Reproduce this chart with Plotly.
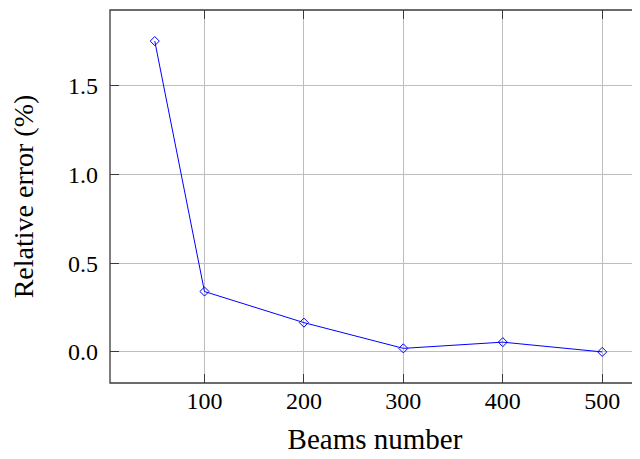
import plotly.graph_objects as go

beams = [50, 100, 200, 300, 400, 500]
rel_error = [1.75, 0.34, 0.165, 0.02, 0.055, 0.0]
x_ticks = [100, 200, 300, 400, 500]
y_ticks = [0.0, 0.5, 1.0, 1.5]

x_range = [5, 538]
y_range = [-0.175, 1.925]

FONT = "Liberation Serif"
FRAME = "#3a3a3a"
GRID = "#bdbdbd"

fig = go.Figure()
fig.add_trace(go.Scatter(
    x=beams, y=rel_error, mode="lines+markers",
    line=dict(color="#0000ff", width=1),
    marker=dict(symbol="diamond-open", size=7, color="#0000ff",
                line=dict(color="#0000ff", width=1)),
    showlegend=False, hoverinfo="skip"))
# invisible trace to carry mirrored tick axes
fig.add_trace(go.Scatter(
    x=beams, y=rel_error, xaxis="x2", yaxis="y2", mode="lines",
    line=dict(width=0), opacity=0, showlegend=False, hoverinfo="skip"))

# page body adds an 8px margin, so the figure is sized to fill the rest of the window
fig.update_layout(
    width=632, height=451,
    margin=dict(l=102, r=0, t=1.5, b=76.3, autoexpand=False),
    paper_bgcolor="white", plot_bgcolor="white",
    font=dict(family=FONT, color="black"),
    xaxis=dict(
        range=x_range, tickvals=x_ticks, ticktext=[str(v) for v in x_ticks],
        showgrid=True, gridcolor=GRID, gridwidth=1, zeroline=False, automargin=False,
        showline=False, ticks="inside", ticklen=9, tickcolor=FRAME, tickwidth=1,
        tickfont=dict(size=24, family=FONT), ticklabelstandoff=1,
        title=dict(text="Beams number", font=dict(size=29, family=FONT), standoff=15),
    ),
    yaxis=dict(
        range=y_range, tickvals=y_ticks, tickformat=".1f",
        showgrid=True, gridcolor=GRID, gridwidth=1, zeroline=False, automargin=False,
        showline=False, ticks="inside", ticklen=9, tickcolor=FRAME, tickwidth=1,
        tickfont=dict(size=24, family=FONT), ticklabelstandoff=11,
        title=dict(text="Relative error (%)", font=dict(size=28, family=FONT), standoff=26),
    ),
    xaxis2=dict(
        range=x_range, tickvals=x_ticks, overlaying="x", side="top", anchor="y",
        showgrid=False, zeroline=False, showline=False, showticklabels=False, automargin=False,
        ticks="inside", ticklen=9, tickcolor=FRAME, tickwidth=1,
    ),
    yaxis2=dict(
        range=y_range, tickvals=y_ticks, overlaying="y", side="right", anchor="x",
        showgrid=False, zeroline=False, showline=False, showticklabels=False, automargin=False,
        ticks="inside", ticklen=3, tickcolor=FRAME, tickwidth=1,
    ),
)

# axis frame (right edge lies just beyond the visible window, as in the original)
fig.add_shape(type="rect", xref="paper", yref="paper", x0=0, x1=(545 - x_range[0]) / (x_range[1] - x_range[0]),
              y0=0, y1=1, line=dict(color=FRAME, width=1.3), layer="above")

fig.write_html("out.html")
